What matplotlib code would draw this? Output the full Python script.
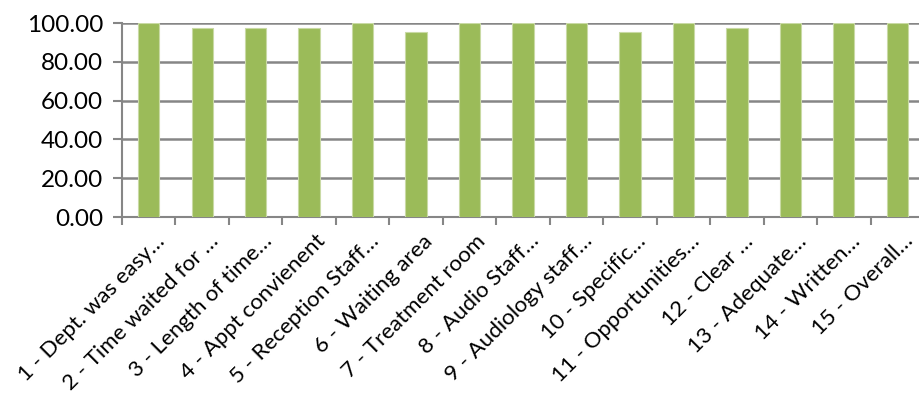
import matplotlib.pyplot as plt
import matplotlib.transforms as mtransforms

# 类别标签和数值
labels = ['1 - Dept. was easy…', '2 - Time waited for …', '3 - Length of time…',
          '4 - Appt convienent', '5 - Reception Staff…', '6 - Waiting area',
          '7 - Treatment room', '8 - Audio Staff…', '9 - Audiology staff…',
          '10 - Specific…', '11 - Opportunities…', '12 - Clear …',
          '13 - Adequate…', '14 - Written…', '15 - Overall…']
scores = [100, 97.44, 97.44, 97.44, 100, 95.45, 100, 100, 100,
          95.45, 100, 97.44, 100, 100, 100]
yticks = [0, 20, 40, 60, 80, 100]

plt.rcParams['font.family'] = ['Lato', 'DejaVu Sans']

fig = plt.figure(figsize=(9.2, 3.99), dpi=100)
ax = fig.add_axes([122/920, (399-217)/399, 802/920, 194/399])

x = list(range(len(labels)))
ax.bar(x, scores, width=0.4, color='#9BBB59', edgecolor='#C9DAA5', linewidth=0.8, zorder=3)

ax.set_xlim(-0.5, len(labels) - 0.5)
ax.set_ylim(0, 100)
ax.set_yticks(yticks)
ax.set_yticklabels([f'{v:.2f}' for v in yticks], fontsize=17.5)
ax.yaxis.grid(True, color='#868686', linewidth=1.8, zorder=0)

# 刻度线放在类别之间
ax.set_xticks([i - 0.5 for i in range(len(labels) + 1)])
ax.set_xticklabels([])
ax.tick_params(axis='x', length=6, width=1.5, color='#868686', direction='out')
ax.tick_params(axis='y', length=6.5, width=1.5, color='#868686', pad=7)

offset = mtransforms.ScaledTranslation(6/100, -14/100, fig.dpi_scale_trans)
for i, lab in enumerate(labels):
    ax.text(i, 0, lab, rotation=45, ha='right', va='top', rotation_mode='anchor',
            fontsize=16, transform=ax.get_xaxis_transform() + offset)

for side in ['top', 'right']:
    ax.spines[side].set_visible(False)
for side in ['left', 'bottom']:
    ax.spines[side].set_color('#868686')
    ax.spines[side].set_linewidth(1.5)

plt.savefig('out.png', dpi=100)
